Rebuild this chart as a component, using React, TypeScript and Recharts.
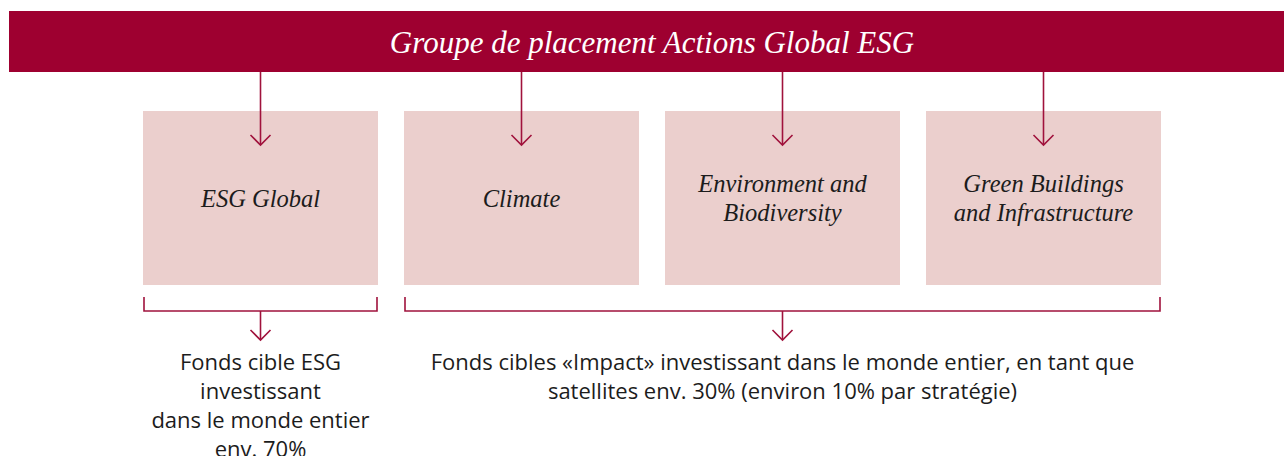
import React from 'react';
import { BarChart, Bar, XAxis, YAxis, ReferenceArea, Customized, LabelList } from 'recharts';

// ---------- data ----------
const title = 'Groupe de placement Actions Global ESG';
const strategies = ['ESG Global', 'Climate', 'Environment and Biodiversity', 'Green Buildings and Infrastructure'];
const strategyLines = [['ESG Global'], ['Climate'], ['Environment and', 'Biodiversity'], ['Green Buildings', 'and Infrastructure']];
const boxValue = [1, 1, 1, 1];
const groupFirst = ['ESG Global', 'Climate'];
const groupLast = ['ESG Global', 'Green Buildings and Infrastructure'];
const groupText = [
  ['Fonds cible ESG', 'investissant', 'dans le monde entier', 'env. 70%'],
  ['Fonds cibles «Impact» investissant dans le monde entier, en tant que', 'satellites env. 30% (environ 10% par stratégie)'],
];

// ---------- styles ----------
const CRIMSON = '#9E0030';
const LINE = '#A0123C';
const BOX = '#EBCFCD';
const TEXT = '#1c1c1c';
const SERIF = '"Liberation Serif", "DejaVu Serif", serif';
const SANS = '"Open Sans", "Noto Sans", sans-serif';
const W = 1284;
const H = 456;
const BANNER = { x: 9, y: 11, h: 61 };

const data = strategies.map((name, i) => ({ name, value: boxValue[i], lines: strategyLines[i] }));

const Chevron = ({ x, y }: { x: number; y: number }) => (
  <polyline points={`${x - 10},${y - 10} ${x},${y} ${x + 10},${y - 10}`} fill="none" stroke={LINE} strokeWidth={1.6} />
);

const BoxShape = (props: any) => {
  const { x, y, width, height } = props;
  const cx = x + width / 2;
  const tip = y + 34;
  return (
    <g>
      <rect x={x} y={y} width={width} height={height} fill={BOX} />
      <line x1={cx} y1={BANNER.y + BANNER.h} x2={cx} y2={tip} stroke={LINE} strokeWidth={1.6} />
      <Chevron x={cx} y={tip} />
    </g>
  );
};

const BoxLabel = (props: any) => {
  const { x, y, width, height, index } = props;
  const lines = strategyLines[index] || [];
  const cx = x + width / 2;
  const lh = 29;
  const cy = y + height / 2;
  const start = cy - ((lines.length - 1) * lh) / 2;
  return (
    <text textAnchor="middle" fontFamily={SERIF} fontStyle="italic" fontSize={24.5} fill={TEXT}>
      {lines.map((l: string, i: number) => (
        <tspan key={i} x={cx} y={start + i * lh} dominantBaseline="central">
          {l}
        </tspan>
      ))}
    </text>
  );
};

const makeBracket = (gi: number) => (props: any) => {
  const { x, y, width, height } = props;
  const inset = 14;
  const left = x + inset;
  const right = x + width - inset;
  const bottom = y + height;
  const topTick = bottom + 12;
  const bar = bottom + 26;
  const tip = bottom + 55;
  const cx = (left + right) / 2;
  const lines = groupText[gi];
  return (
    <g>
      <polyline
        points={`${left},${topTick} ${left},${bar} ${right},${bar} ${right},${topTick}`}
        fill="none"
        stroke={LINE}
        strokeWidth={1.6}
      />
      <line x1={cx} y1={bar} x2={cx} y2={tip} stroke={LINE} strokeWidth={1.6} />
      <Chevron x={cx} y={tip} />
      <text textAnchor="middle" fontFamily={SANS} fontSize={22} fill={TEXT}>
        {lines.map((l, i) => (
          <tspan key={i} x={cx} y={bottom + 85 + i * 29}>
            {l}
          </tspan>
        ))}
      </text>
    </g>
  );
};

const Banner = () => (
  <g>
    <rect x={BANNER.x} y={BANNER.y} width={W - BANNER.x} height={BANNER.h} fill={CRIMSON} />
    <text
      x={652}
      y={BANNER.y + BANNER.h / 2 + 1}
      textAnchor="middle"
      dominantBaseline="central"
      fontFamily={SERIF}
      fontStyle="italic"
      fontSize={31}
      fill="#ffffff"
    >
      {title}
    </text>
  </g>
);

export default function App() {
  return (
    <div style={{ position: 'absolute', left: 0, top: 0, width: W, height: H, background: '#fff' }}>
      <BarChart width={W} height={H} data={data} margin={{ top: 111, right: 110, bottom: 171, left: 130 }}>
        <XAxis dataKey="name" type="category" hide />
        <YAxis type="number" domain={[0, 1]} hide />
        <Customized component={Banner} />
        {groupFirst.map((g, i) => (
          <ReferenceArea
            key={g}
            x1={groupFirst[i]}
            x2={groupLast[i]}
            ifOverflow="visible"
            shape={makeBracket(i)}
          />
        ))}
        <Bar dataKey="value" barSize={235} shape={BoxShape} isAnimationActive={false}>
          <LabelList dataKey="name" content={BoxLabel} />
        </Bar>
      </BarChart>
    </div>
  );
}
